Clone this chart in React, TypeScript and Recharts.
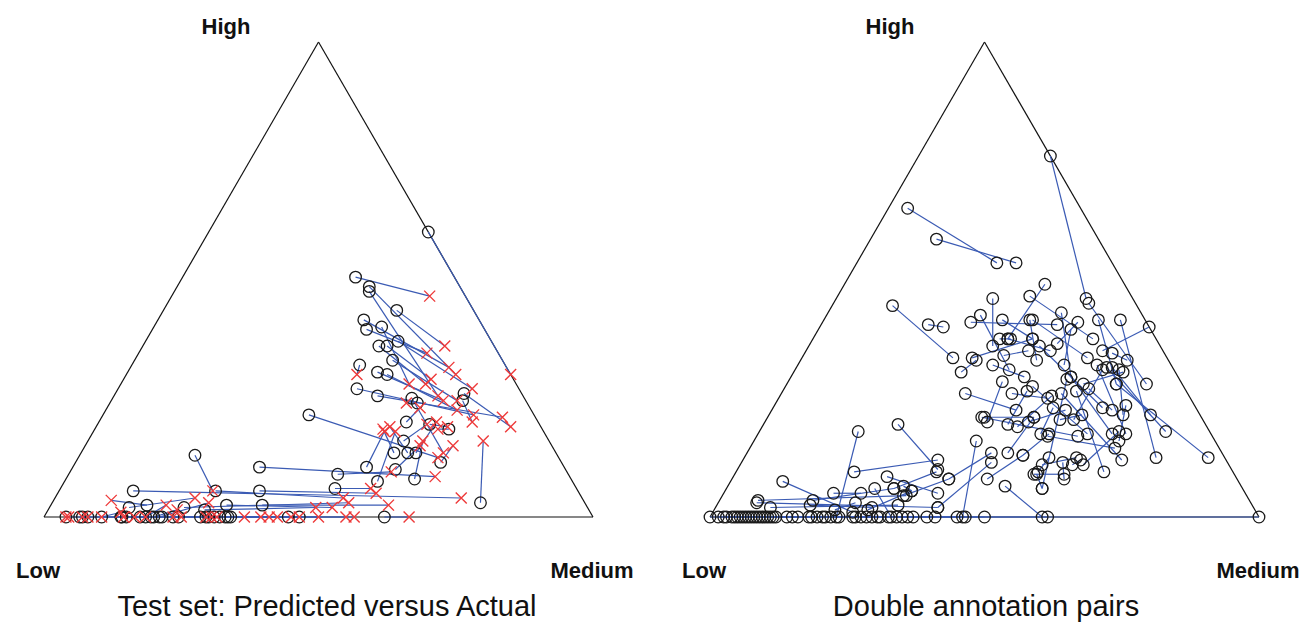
import React from 'react';
import { ScatterChart, Scatter, XAxis, YAxis, ReferenceLine } from 'recharts';

// Ternary compositions given as [Medium %, High %] (Low = 100 - Medium - High)
const leftActual: number[][] = [
  [40, 60], [31.5, 50.5], [35, 48.5], [35.5, 47.5], [42.5, 43.5], [37.5, 41.5], [39, 39.5], [41.5, 40],
  [43, 36], [44.5, 36], [46, 37], [41.5, 32], [45.5, 30.5], [47, 33], [47.5, 30], [43.5, 27],
  [48, 25.5], [63.5, 26], [64, 24.5], [54.5, 25], [56, 24], [56, 20], [60.5, 19.5], [64.5, 18.5],
  [57.5, 16], [57, 13.5], [59.5, 13.5], [61, 13.5], [37.5, 21.5], [66.5, 11.5], [53.5, 10.5], [57, 7.5],
  [59, 10], [63.5, 8], [49, 9], [50, 6], [78, 3], [62, 0], [34, 10.5], [13.5, 5.5],
  [36.5, 5.5], [38.5, 2.5], [21, 13], [17.5, 2.5], [28.5, 5.5], [14.5, 2], [24.5, 2], [32, 2.5],
  [28.5, 1.5], [21, 0], [18.5, 0], [10.5, 0], [20, 0],
  [4, 0], [6.5, 0], [7, 0], [8, 0], [14, 0], [14.2, 0], [15, 0], [17.5, 0], [19.5, 0], [21.5, 0],
  [23.5, 0], [24.5, 0], [28.5, 0], [29.5, 0], [30, 0], [31, 0], [32, 0], [33, 0], [33.5, 0], [34, 0],
  [44.5, 0], [46.5, 0],
];

const leftPredicted: number[][] = [
  [70, 30], [47, 46.5], [60, 30], [59, 25.5], [55, 36], [58, 31.5], [52.5, 34.5], [52.5, 28],
  [55.5, 28], [56, 29], [64.5, 27], [42, 30], [60.5, 24.5], [63, 24.5], [64, 22.5], [67.5, 21.5],
  [73, 21], [75.5, 19], [68, 20], [66, 13.5], [54, 24], [57, 23], [64, 19], [62.5, 18.5],
  [60, 19.5], [52.5, 18.5], [53.5, 19], [61.5, 20], [65.5, 12.5], [67, 15], [53, 18], [55, 18],
  [61, 15], [61, 16], [58.5, 9.5], [56.5, 6], [72, 16], [66.5, 0], [67, 8.5], [74, 4],
  [58, 5], [61.5, 2.5], [28, 5.5], [10.5, 3.5], [52.5, 4], [25.5, 4], [54, 3], [51.5, 2],
  [48.5, 2], [28.5, 3], [21, 2.5], [13.5, 1], [23.5, 1.5],
  [4.5, 0], [7, 0], [8, 0], [14.5, 0], [16.5, 0], [18.5, 0], [23.5, 0], [25, 0], [29.5, 0], [30.5, 0],
  [31.5, 0], [36.5, 0], [39.5, 0], [41, 0], [42.5, 0], [45, 0], [46.5, 0], [50, 0], [55, 0], [56.5, 0],
  [10.5, 0], [4, 0],
];

const rightFirst: number[][] = [
  [24, 76], [3.5, 65], [12, 58.5], [11, 44.5], [19.5, 40.5], [28.5, 46], [28, 42.5], [27, 41],
  [36.5, 49], [35, 46.5], [32.5, 41.5], [42.5, 43], [46.5, 45], [50, 41.5], [54, 41.5], [60, 40],
  [46.5, 41], [46, 39.5], [37.5, 41.5], [38, 41.5], [34, 37.5], [35.5, 37.5], [40.5, 35], [42, 36],
  [35.5, 32], [56, 34.5], [54.5, 32], [56.5, 31.5], [57.5, 31.5], [56, 31], [59, 31], [60, 30.5],
  [50.5, 29], [51, 29.5], [33.5, 26], [39, 28.5], [42, 26], [44.5, 26.5], [45, 27.5], [49.5, 25.5],
  [51, 26], [53.5, 26.5], [55.5, 27], [60, 28], [64, 23.5], [39, 21], [48, 20], [48.5, 21],
  [51, 23], [53.5, 20.5], [53, 17.5], [53, 17], [65.5, 18], [60.5, 12.5], [61.5, 12], [58.5, 11.5],
  [60, 9], [55, 9.5], [50.5, 6.5], [55, 9], [44.5, 13.5], [45.5, 11.5], [40.5, 16], [24.5, 19.5],
  [21.5, 9.5], [18, 18], [9.5, 7.5], [28, 8.5], [39.5, 21], [46.5, 8], [30.5, 6], [32, 6.5],
  [33, 4.5], [20, 5], [27, 6], [7, 3.5], [7, 3], [10, 2], [17, 3.5], [17, 2.5],
  [25, 3], [28, 1.5], [30.5, 30.5], [31, 33.5],
  [0, 0], [1.5, 0], [2.5, 0], [3, 0], [5.5, 0], [6, 0], [6.5, 0], [7, 0], [7.5, 0], [8, 0],
  [8.5, 0], [9.5, 0], [10, 0], [10.5, 0], [11, 0], [4.5, 0], [18.5, 0], [19.5, 0], [21, 0], [23.5, 0],
  [26.5, 0], [28.5, 0], [30.5, 0], [4, 0], [12, 0],
];

const rightSecond: number[][] = [
  [45.5, 46], [25.5, 53.5], [29, 53.5], [27.5, 33.5], [22.5, 40], [33.5, 36], [39, 31], [43, 40.5],
  [35.5, 37.5], [51, 37.5], [40, 37.5], [51, 29.5], [65.5, 28], [60, 28], [75, 12.5], [54, 35],
  [45, 36.5], [48.5, 32], [43, 33], [52, 33.5], [36, 37.5], [44.5, 35], [36.5, 34], [60, 23],
  [42.5, 29.5], [59.5, 33], [67, 17.5], [74, 18], [69.5, 21.5], [56, 20.5], [64.5, 21.5], [54, 28],
  [57.5, 6], [64.5, 17.5], [44.5, 22.5], [40.5, 20], [49, 25], [44.5, 19.5], [60, 17.5], [46.5, 19],
  [69, 12], [67, 9.5], [62, 22.5], [84.5, 12.5], [66.5, 16], [58.5, 17], [53.5, 22.5], [47.5, 13.5],
  [51.5, 17.5], [57, 21.5], [50.5, 13], [66.5, 14.5], [62.5, 11], [55, 11], [60.5, 11], [60.5, 8],
  [54.5, 9], [55.5, 12.5], [60.5, 0], [57.5, 6], [39.5, 8], [40.5, 2], [46, 0], [36.5, 10],
  [35.5, 12], [23, 0], [25.5, 1], [39, 5], [48.5, 21], [50.5, 13], [36.5, 9.5], [34, 5.5],
  [39.5, 8], [25, 5], [33, 0], [33.5, 4.5], [40.5, 2], [33, 2.5], [30.5, 6], [28.5, 2],
  [22, 1.5], [34, 5.5], [32, 33], [40, 37.5],
  [100, 0], [5, 0], [11.5, 0], [14, 0], [16, 0], [18, 0], [20.5, 0], [22, 0], [26, 0], [27.5, 0],
  [29.5, 0], [32.5, 0], [35, 0], [37, 0], [41, 0], [61.5, 0], [45, 0], [46.5, 0], [50, 0], [31, 0],
  [34, 0], [36, 0], [39.5, 0], [9, 0], [15, 0],
];

const cornerLabels = ['Low', 'Medium', 'High'];
const titles = ['Test set: Predicted versus Actual', 'Double annotation pairs'];

const SQ = Math.sqrt(3) / 2;
const toXY = (c: number[]) => ({ x: c[0] + c[1] / 2, y: c[1] * SQ });

const BLUE = '#3b5bb4';
const RED = '#ee3a3a';
const FONT = '"Liberation Sans", Arial, Helvetica, sans-serif';

const CircleMark = (p: any) =>
  p.cx == null ? <g /> : <circle cx={p.cx} cy={p.cy} r={5.8} fill="none" stroke="#1a1a1a" strokeWidth={1.3} />;

const CrossMark = (p: any) => {
  if (p.cx == null) return <g />;
  const s = 5.5;
  const { cx, cy } = p;
  return (
    <path
      d={`M${cx - s},${cy - s}L${cx + s},${cy + s}M${cx - s},${cy + s}L${cx + s},${cy - s}`}
      stroke={RED}
      strokeWidth={1.4}
      fill="none"
    />
  );
};

type TP = {
  width: number;
  left: number;
  right: number;
  a: number[][];
  b: number[][];
  bShape: any;
};

function Ternary({ width, left, right, a, b, bShape }: TP) {
  const pa = a.map(toXY);
  const pb = b.map(toXY);
  const lo = { x: 0, y: 0 };
  const me = { x: 100, y: 0 };
  const hi = { x: 50, y: 100 * SQ };
  return (
    <ScatterChart width={width} height={623} margin={{ top: 42, right, bottom: 106, left }}>
      <XAxis type="number" dataKey="x" domain={[0, 100]} hide />
      <YAxis type="number" dataKey="y" domain={[0, 100 * SQ]} hide />
      <ReferenceLine segment={[lo, me]} stroke="#111" strokeWidth={1.2} ifOverflow="visible" />
      <ReferenceLine segment={[me, hi]} stroke="#111" strokeWidth={1.2} ifOverflow="visible" />
      <ReferenceLine segment={[hi, lo]} stroke="#111" strokeWidth={1.2} ifOverflow="visible" />
      {pa.map((p, i) => (
        <ReferenceLine key={i} segment={[p, pb[i]]} stroke={BLUE} strokeWidth={1.2} ifOverflow="visible" />
      ))}
      <Scatter data={pa} shape={CircleMark} isAnimationActive={false} />
      <Scatter data={pb} shape={bShape} isAnimationActive={false} />
    </ScatterChart>
  );
}

export default function App() {
  const bold = { fontFamily: FONT, fontWeight: 700, fontSize: 22, fill: '#111' } as const;
  const title = { fontFamily: FONT, fontSize: 29, fill: '#111' } as const;
  return (
    <div style={{ position: 'absolute', left: 0, top: 0, width: 1301, height: 623, background: '#fff' }}>
      <div style={{ position: 'absolute', left: 0, top: 0 }}>
        <Ternary width={650} left={44} right={57} a={leftActual} b={leftPredicted} bShape={CrossMark} />
      </div>
      <div style={{ position: 'absolute', left: 650, top: 0 }}>
        <Ternary width={651} left={60} right={42} a={rightFirst} b={rightSecond} bShape={CircleMark} />
      </div>
      <svg
        width={1301}
        height={623}
        style={{ position: 'absolute', left: 0, top: 0, pointerEvents: 'none' }}
      >
        <text x={38} y={578} textAnchor="middle" style={bold}>{cornerLabels[0]}</text>
        <text x={592} y={578} textAnchor="middle" style={bold}>{cornerLabels[1]}</text>
        <text x={226} y={34} textAnchor="middle" style={bold}>{cornerLabels[2]}</text>
        <text x={327} y={616} textAnchor="middle" style={title}>{titles[0]}</text>
        <text x={704} y={578} textAnchor="middle" style={bold}>{cornerLabels[0]}</text>
        <text x={1258} y={578} textAnchor="middle" style={bold}>{cornerLabels[1]}</text>
        <text x={890} y={34} textAnchor="middle" style={bold}>{cornerLabels[2]}</text>
        <text x={986} y={616} textAnchor="middle" style={title}>{titles[1]}</text>
      </svg>
    </div>
  );
}
